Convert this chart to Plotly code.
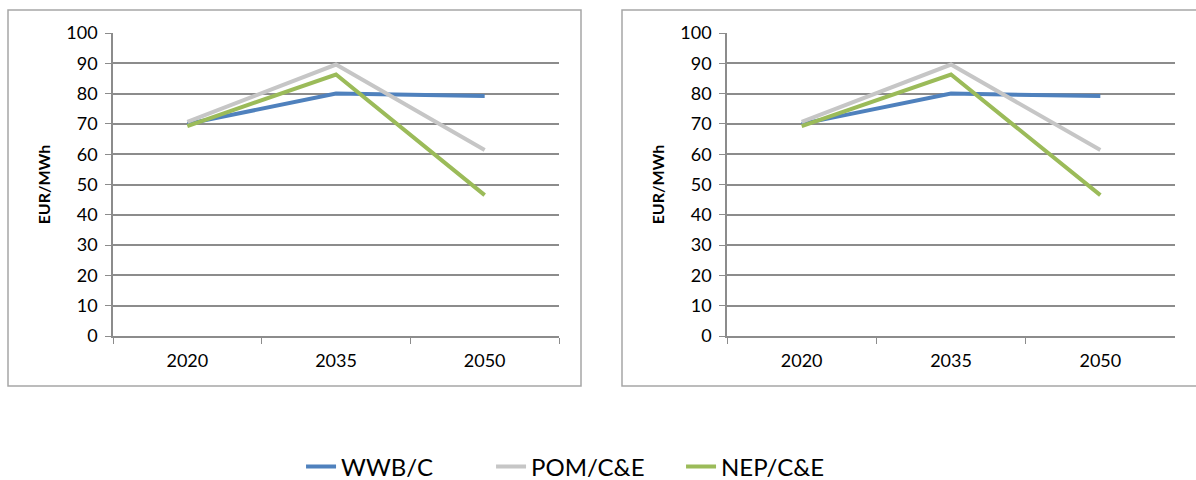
import plotly.graph_objects as go

years = ['2020', '2035', '2050']
wwb_c = [70.0, 80.0, 79.2]
pom_ce = [70.7, 89.6, 61.4]
nep_ce = [69.3, 86.3, 46.5]

series = [
    ('WWB/C', wwb_c, '#4F81BD'),
    ('POM/C&E', pom_ce, '#C6C6C6'),
    ('NEP/C&E', nep_ce, '#9BBB59'),
]

W, H = 1196, 480
font = 'Lato, Calibri, sans-serif'
grid = '#8c8c8c'

fig = go.Figure()
for i, ax in enumerate(['', '2']):
    for name, vals, color in series:
        fig.add_trace(go.Scatter(
            x=years, y=vals, name=name, mode='lines',
            line=dict(color=color, width=4),
            xaxis='x' + ax, yaxis='y' + ax,
            showlegend=(i == 0),
        ))

y_dom = [1 - 336 / H, 1 - 33 / H]
xaxis_common = dict(
    type='category', range=[-0.5, 2.5], tickson='boundaries',
    ticks='outside', ticklen=6, tickcolor=grid, showline=True,
    linecolor=grid, linewidth=1.5, showgrid=False, zeroline=False,
    tickfont=dict(size=18, color='#000000', family=font),
    ticklabelstandoff=8,
)
yaxis_common = dict(
    range=[0, 100], dtick=10, showgrid=True, gridcolor=grid, gridwidth=1.5,
    ticks='outside', ticklen=6, tickcolor=grid, showline=True,
    linecolor=grid, linewidth=1.5, zeroline=False, domain=y_dom,
    tickfont=dict(size=18, color='#000000', family=font),
    ticklabelstandoff=4,
    title=dict(text='<b>EUR/MWh</b>', standoff=12,
               font=dict(size=16, color='#000000', family=font)),
)

fig.update_layout(
    width=W, height=H,
    margin=dict(l=0, r=0, t=0, b=0, autoexpand=False),
    paper_bgcolor='white', plot_bgcolor='white',
    font=dict(family=font, color='#000000'),
    xaxis=dict(xaxis_common, domain=[113 / W, 559 / W], anchor='y'),
    yaxis=dict(yaxis_common, anchor='x'),
    xaxis2=dict(xaxis_common, domain=[727 / W, 1175 / W], anchor='y2'),
    yaxis2=dict(yaxis_common, anchor='x2'),
    legend=dict(
        orientation='h', x=0.49, xanchor='center', y=1 - 467 / H, yanchor='middle',
        font=dict(size=24, family=font, color='#000000'),
        entrywidth=145, tracegroupgap=0,
    ),
    shapes=[
        dict(type='rect', xref='paper', yref='paper',
             x0=8 / W, x1=581 / W, y0=1 - 386 / H, y1=1 - 10 / H,
             line=dict(color='#a6a6a6', width=1.5)),
        dict(type='rect', xref='paper', yref='paper',
             x0=622 / W, x1=1200 / W, y0=1 - 386 / H, y1=1 - 10 / H,
             line=dict(color='#a6a6a6', width=1.5)),
    ],
)

fig.write_html('out.html', config={'displayModeBar': False},
               post_script="document.body.style.margin='0';")
